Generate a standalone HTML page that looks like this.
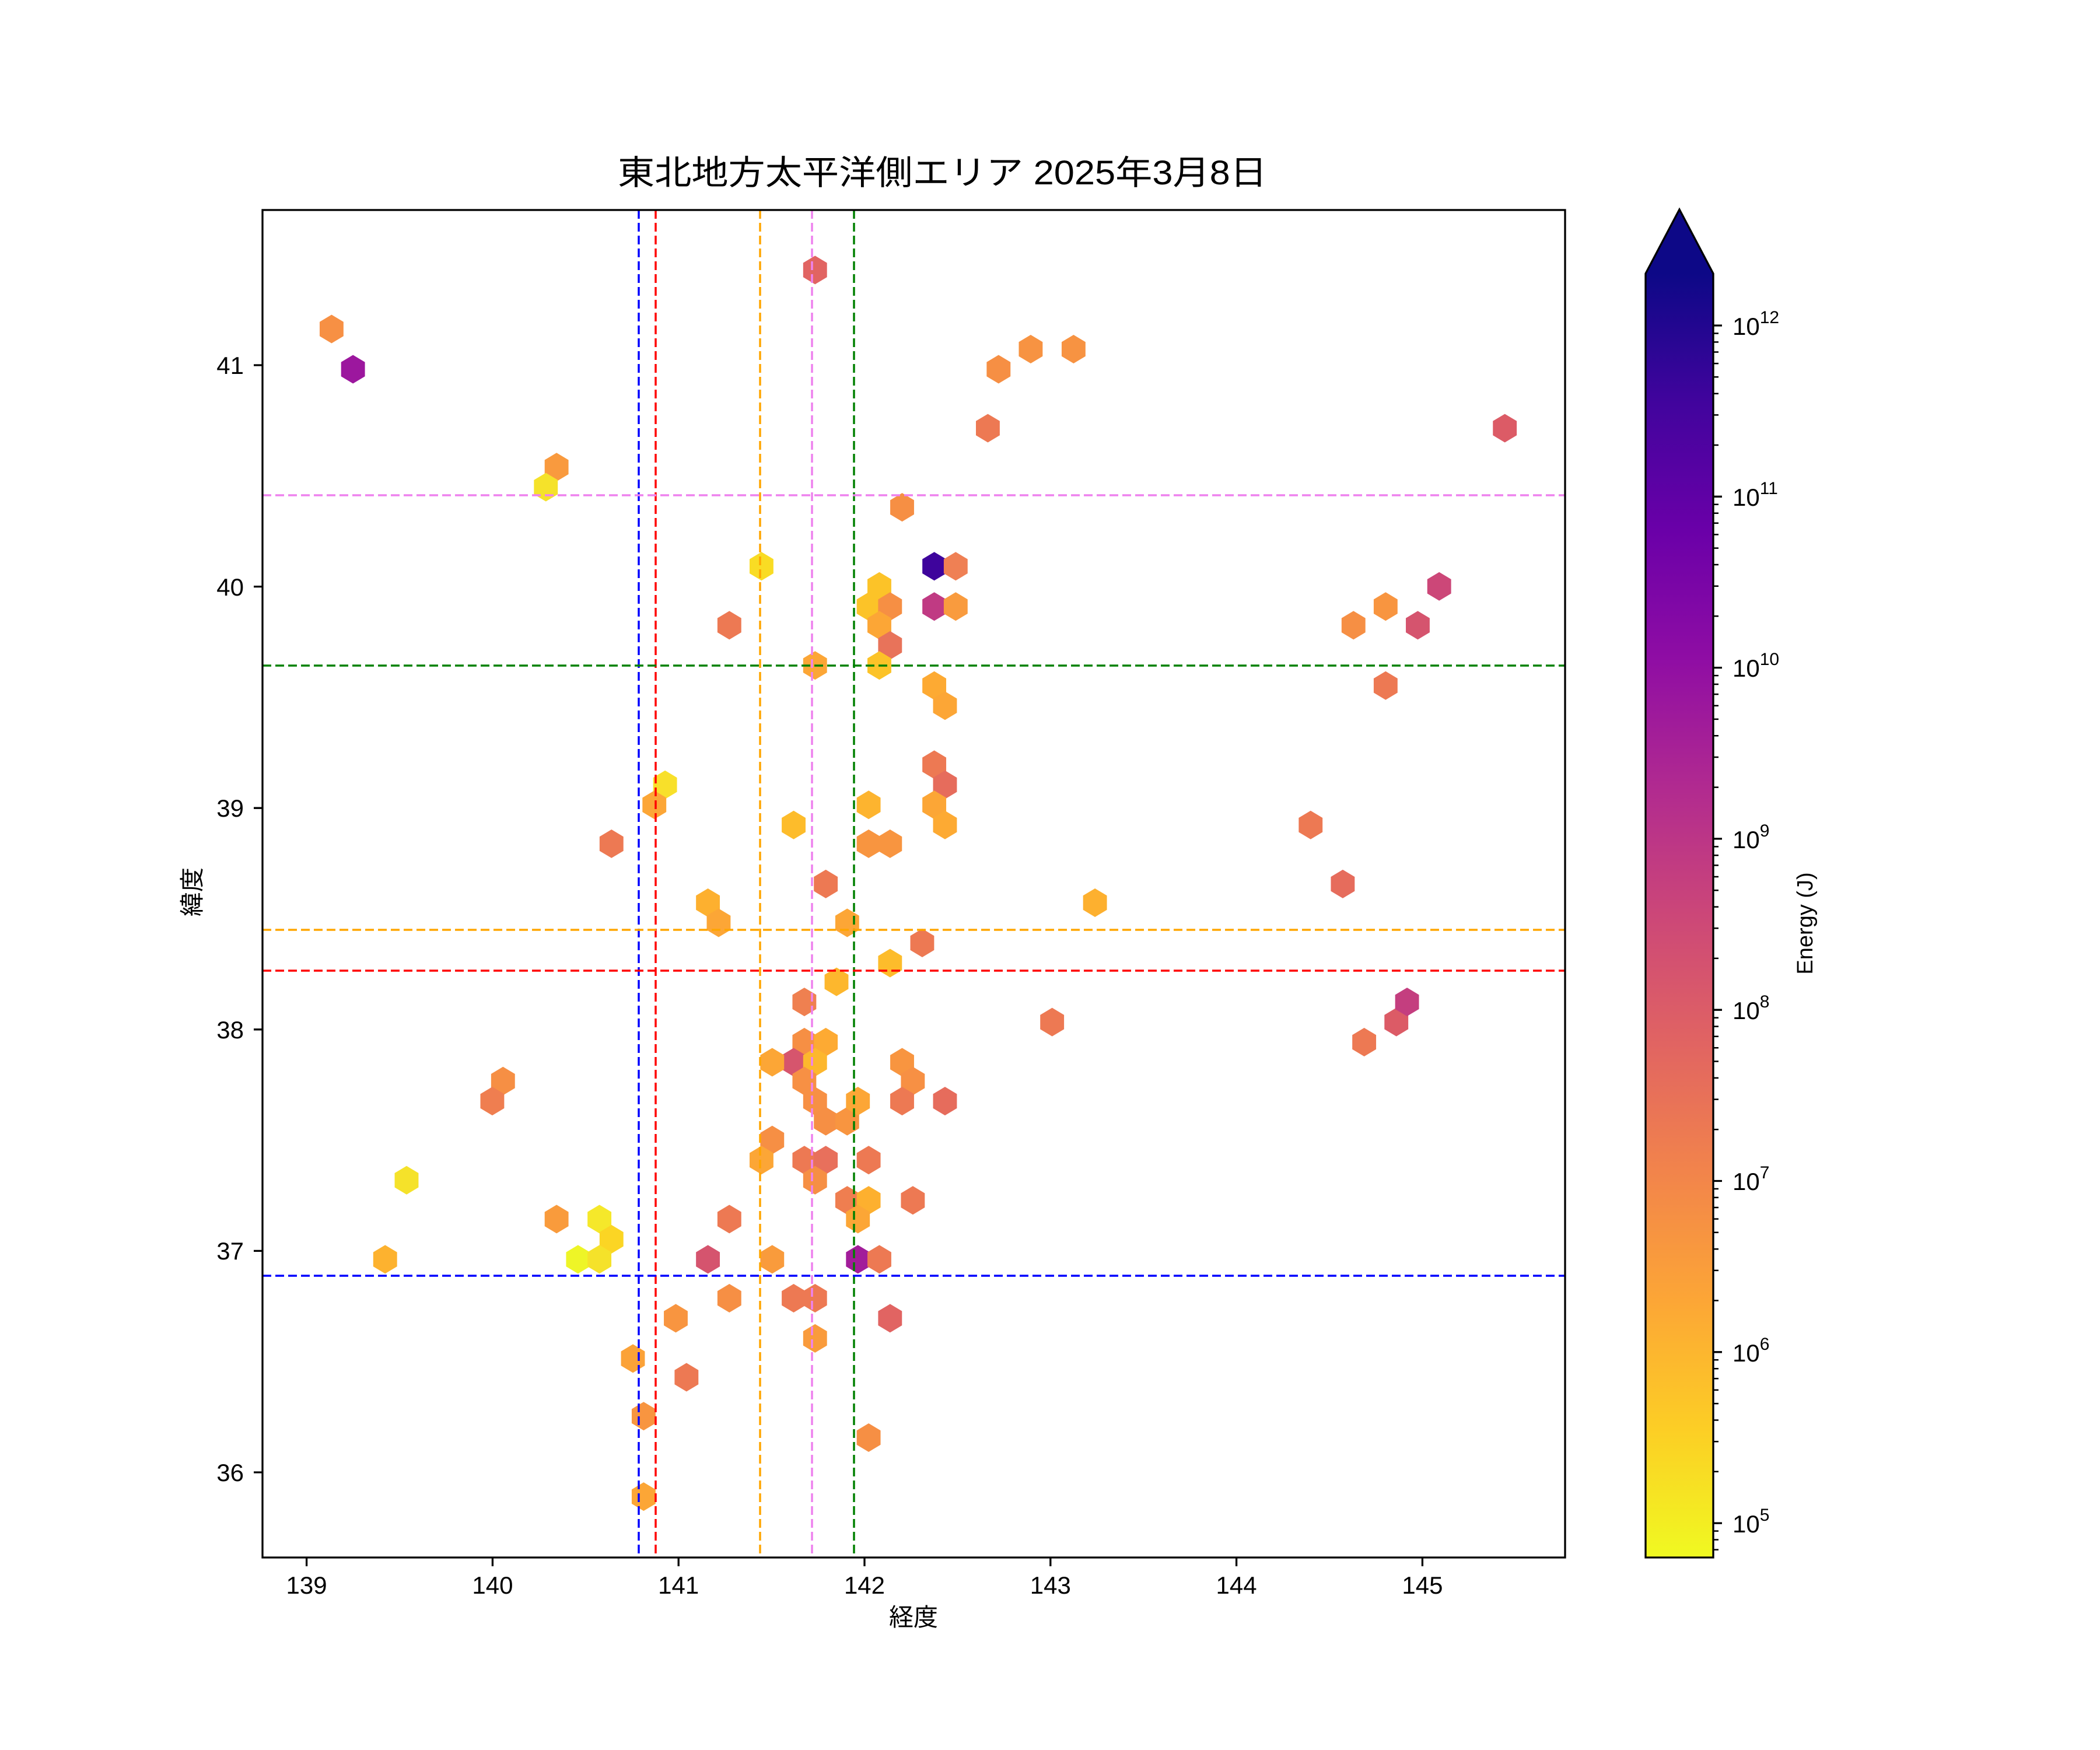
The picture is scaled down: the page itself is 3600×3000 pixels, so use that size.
<!DOCTYPE html>
<html><head><meta charset="utf-8"><style>html,body{margin:0;padding:0;background:#fff}svg{display:block}</style></head>
<body>
<svg xmlns="http://www.w3.org/2000/svg" xmlns:xlink="http://www.w3.org/1999/xlink" width="3600" height="3000" viewBox="0 0 3600 3000" font-family="'Liberation Sans','Noto Sans CJK JP',sans-serif">
<defs>
<path id="h" d="M0,-10.66 L8.9,-5.33 L8.9,5.33 L0,10.66 L-8.9,5.33 L-8.9,-5.33Z"/>
<linearGradient id="pl" x1="0" y1="0" x2="0" y2="1">
<stop offset="0" stop-color="#0d0887"/><stop offset="0.1" stop-color="#41049d"/><stop offset="0.2" stop-color="#6a00a8"/><stop offset="0.3" stop-color="#8f0da4"/><stop offset="0.4" stop-color="#b12a90"/><stop offset="0.5" stop-color="#cc4778"/><stop offset="0.6" stop-color="#e16462"/><stop offset="0.7" stop-color="#f2844b"/><stop offset="0.8" stop-color="#fca636"/><stop offset="0.9" stop-color="#fcce25"/><stop offset="1" stop-color="#f0f921"/>
</linearGradient>
<clipPath id="ax"><rect x="450" y="360" width="2233" height="2310"/></clipPath>
</defs>
<rect width="3600" height="3000" fill="#fff"/>
<text x="1059" y="316" font-size="58" textLength="1113" lengthAdjust="spacingAndGlyphs">東北地方太平洋側エリア 2025年3月8日</text>
<g clip-path="url(#ax)">
<g transform="matrix(2.296 0 0 2.298 -1 -1.3)">
<use href="#h" x="248" y="246" fill="#f79044"/>
<use href="#h" x="264" y="276" fill="#9c179e"/>
<use href="#h" x="416" y="349" fill="#f99a3e"/>
<use href="#h" x="408" y="364" fill="#f5e22a"/>
<use href="#h" x="609" y="202" fill="#e16462"/>
<use href="#h" x="569" y="423" fill="#f9dc24"/>
<use href="#h" x="545" y="467" fill="#ed7953"/>
<use href="#h" x="738" y="320" fill="#ed7953"/>
<use href="#h" x="746" y="276" fill="#f68f44"/>
<use href="#h" x="770" y="261" fill="#f79342"/>
<use href="#h" x="802" y="261" fill="#f79342"/>
<use href="#h" x="1124" y="320" fill="#dc5b66"/>
<use href="#h" x="674" y="379" fill="#f68f44"/>
<use href="#h" x="698" y="423" fill="#3e049c"/>
<use href="#h" x="714" y="423" fill="#ef8054"/>
<use href="#h" x="657" y="438" fill="#fcc328"/>
<use href="#h" x="649" y="453" fill="#fcc328"/>
<use href="#h" x="665" y="453" fill="#f68f44"/>
<use href="#h" x="698" y="453" fill="#c03a83"/>
<use href="#h" x="714" y="453" fill="#f99b3e"/>
<use href="#h" x="657" y="467" fill="#fca636"/>
<use href="#h" x="665" y="482" fill="#e8735a"/>
<use href="#h" x="609" y="497" fill="#fca636"/>
<use href="#h" x="657" y="497" fill="#fcc328"/>
<use href="#h" x="698" y="512" fill="#fdaa33"/>
<use href="#h" x="706" y="527" fill="#fca636"/>
<use href="#h" x="1075" y="438" fill="#cc4778"/>
<use href="#h" x="1059" y="467" fill="#d5546e"/>
<use href="#h" x="1011" y="467" fill="#f68f44"/>
<use href="#h" x="1035" y="453" fill="#f89540"/>
<use href="#h" x="1035" y="512" fill="#ed7953"/>
<use href="#h" x="698" y="571" fill="#ed7953"/>
<use href="#h" x="706" y="586" fill="#e66c5c"/>
<use href="#h" x="698" y="601" fill="#fca636"/>
<use href="#h" x="706" y="616" fill="#fdaa33"/>
<use href="#h" x="497" y="586" fill="#f8e02a"/>
<use href="#h" x="489" y="601" fill="#fca636"/>
<use href="#h" x="457" y="630" fill="#ed7953"/>
<use href="#h" x="593" y="616" fill="#fdbc2b"/>
<use href="#h" x="649" y="601" fill="#fdb42f"/>
<use href="#h" x="649" y="630" fill="#f89540"/>
<use href="#h" x="665" y="630" fill="#f89540"/>
<use href="#h" x="617" y="660" fill="#ed7953"/>
<use href="#h" x="979" y="616" fill="#ed7953"/>
<use href="#h" x="1003" y="660" fill="#e66c5c"/>
<use href="#h" x="529" y="674" fill="#fdb02f"/>
<use href="#h" x="537" y="689" fill="#fca636"/>
<use href="#h" x="633" y="689" fill="#fca636"/>
<use href="#h" x="818" y="674" fill="#fdb02f"/>
<use href="#h" x="689" y="704" fill="#ed7953"/>
<use href="#h" x="665" y="719" fill="#fdbc2b"/>
<use href="#h" x="625" y="733" fill="#fdb72d"/>
<use href="#h" x="601" y="748" fill="#ef8050"/>
<use href="#h" x="601" y="778" fill="#f68f44"/>
<use href="#h" x="617" y="778" fill="#fdaa33"/>
<use href="#h" x="593" y="793" fill="#d6556d"/>
<use href="#h" x="577" y="793" fill="#fca636"/>
<use href="#h" x="609" y="793" fill="#fdb72d"/>
<use href="#h" x="601" y="807" fill="#f79044"/>
<use href="#h" x="609" y="822" fill="#f79044"/>
<use href="#h" x="617" y="837" fill="#f68f44"/>
<use href="#h" x="633" y="837" fill="#f89540"/>
<use href="#h" x="641" y="822" fill="#fca636"/>
<use href="#h" x="674" y="793" fill="#f89540"/>
<use href="#h" x="682" y="807" fill="#f79044"/>
<use href="#h" x="674" y="822" fill="#ed7953"/>
<use href="#h" x="706" y="822" fill="#e66c5c"/>
<use href="#h" x="786" y="763" fill="#ed7953"/>
<use href="#h" x="1019" y="778" fill="#ed7953"/>
<use href="#h" x="1043" y="763" fill="#dc5b66"/>
<use href="#h" x="1051" y="748" fill="#c43e7f"/>
<use href="#h" x="376" y="807" fill="#f68f44"/>
<use href="#h" x="368" y="822" fill="#ef7e50"/>
<use href="#h" x="304" y="881" fill="#f5e22a"/>
<use href="#h" x="288" y="940" fill="#fdb22f"/>
<use href="#h" x="416" y="910" fill="#f99b3c"/>
<use href="#h" x="448" y="910" fill="#f5e82a"/>
<use href="#h" x="457" y="925" fill="#fbd524"/>
<use href="#h" x="432" y="940" fill="#eef527"/>
<use href="#h" x="448" y="940" fill="#f5e22a"/>
<use href="#h" x="577" y="851" fill="#f68f44"/>
<use href="#h" x="569" y="866" fill="#fca636"/>
<use href="#h" x="601" y="866" fill="#ed7953"/>
<use href="#h" x="617" y="866" fill="#e8705c"/>
<use href="#h" x="609" y="881" fill="#f68f44"/>
<use href="#h" x="633" y="896" fill="#ef7e50"/>
<use href="#h" x="649" y="896" fill="#fdb02f"/>
<use href="#h" x="641" y="910" fill="#fca636"/>
<use href="#h" x="649" y="866" fill="#ed7953"/>
<use href="#h" x="682" y="896" fill="#ed7953"/>
<use href="#h" x="545" y="910" fill="#ed7953"/>
<use href="#h" x="529" y="940" fill="#d5546e"/>
<use href="#h" x="577" y="940" fill="#f99b3c"/>
<use href="#h" x="641" y="940" fill="#a21d9a"/>
<use href="#h" x="657" y="940" fill="#ed7953"/>
<use href="#h" x="545" y="969" fill="#f68f44"/>
<use href="#h" x="593" y="969" fill="#ed7953"/>
<use href="#h" x="609" y="969" fill="#ed7953"/>
<use href="#h" x="665" y="984" fill="#e16462"/>
<use href="#h" x="505" y="984" fill="#f89540"/>
<use href="#h" x="609" y="999" fill="#f99b3c"/>
<use href="#h" x="473" y="1014" fill="#fba238"/>
<use href="#h" x="513" y="1028" fill="#ed7953"/>
<use href="#h" x="481" y="1057" fill="#f89540"/>
<use href="#h" x="649" y="1073" fill="#f68f44"/>
<use href="#h" x="481" y="1117" fill="#fca636"/>
</g>
<g stroke-width="3.5" stroke-dasharray="15,7" fill="none">
<line x1="1095" y1="360" x2="1095" y2="2670" stroke="#0000ff"/>
<line x1="1124" y1="360" x2="1124" y2="2670" stroke="#ff0000"/>
<line x1="1303" y1="360" x2="1303" y2="2670" stroke="#ffa500"/>
<line x1="1392" y1="360" x2="1392" y2="2670" stroke="#ee82ee"/>
<line x1="1464" y1="360" x2="1464" y2="2670" stroke="#008000"/>
<line x1="450" y1="849" x2="2683" y2="849" stroke="#ee82ee"/>
<line x1="450" y1="1141" x2="2683" y2="1141" stroke="#008000"/>
<line x1="450" y1="1594" x2="2683" y2="1594" stroke="#ffa500"/>
<line x1="450" y1="1664" x2="2683" y2="1664" stroke="#ff0000"/>
<line x1="450" y1="2187" x2="2683" y2="2187" stroke="#0000ff"/>
</g>
</g>
<rect x="450" y="360" width="2233" height="2310" fill="none" stroke="#000" stroke-width="3.3"/>
<g stroke="#000" stroke-width="3.3">
<path d="M525.6 2670v15M844.4 2670v15M1163.2 2670v15M1482 2670v15M1800.8 2670v15M2119.6 2670v15M2438.4 2670v15"/>
<path d="M450 626h-15M450 1005.6h-15M450 1385.2h-15M450 1764.8h-15M450 2144.4h-15M450 2524h-15"/>
</g>
<g font-size="42" text-anchor="middle">
<text x="525.6" y="2732">139</text><text x="844.4" y="2732">140</text><text x="1163.2" y="2732">141</text><text x="1482" y="2732">142</text><text x="1800.8" y="2732">143</text><text x="2119.6" y="2732">144</text><text x="2438.4" y="2732">145</text>
<text x="1566" y="2787">経度</text>
</g>
<g font-size="42" text-anchor="end">
<text x="418" y="641">41</text><text x="418" y="1021">40</text><text x="418" y="1400">39</text><text x="418" y="1780">38</text><text x="418" y="2159">37</text><text x="418" y="2539">36</text>
</g>
<text transform="translate(344 1529) rotate(-90)" font-size="42" text-anchor="middle">緯度</text>
<path d="M2821 469 L2879 359 L2937 469Z" fill="#0d0887"/>
<rect x="2821" y="469" width="116" height="2201" fill="url(#pl)"/>
<path d="M2821 469 L2879 359 L2937 469 V2670 H2821Z" fill="none" stroke="#000" stroke-width="3.3"/>
<g stroke="#000" stroke-width="3.3">
<path d="M2937 558h15M2937 851.3h15M2937 1144.6h15M2937 1437.9h15M2937 1731.2h15M2937 2024.5h15M2937 2317.8h15M2937 2611.1h15"/>
<path stroke-width="2.5" d="M2937 763h9M2937 711.4h9M2937 674.7h9M2937 646.3h9M2937 623.1h9M2937 603.5h9M2937 586.4h9M2937 571.5h9M2937 1056.3h9M2937 1004.7h9M2937 968h9M2937 939.6h9M2937 916.4h9M2937 896.8h9M2937 879.7h9M2937 864.8h9M2937 1349.6h9M2937 1298h9M2937 1261.3h9M2937 1232.9h9M2937 1209.7h9M2937 1190.1h9M2937 1173h9M2937 1158.1h9M2937 1642.9h9M2937 1591.3h9M2937 1554.6h9M2937 1526.2h9M2937 1503h9M2937 1483.4h9M2937 1466.3h9M2937 1451.4h9M2937 1936.2h9M2937 1884.6h9M2937 1847.9h9M2937 1819.5h9M2937 1796.3h9M2937 1776.7h9M2937 1759.6h9M2937 1744.7h9M2937 2229.5h9M2937 2177.9h9M2937 2141.2h9M2937 2112.8h9M2937 2089.6h9M2937 2070h9M2937 2052.9h9M2937 2038h9M2937 2522.8h9M2937 2471.2h9M2937 2434.5h9M2937 2406.1h9M2937 2382.9h9M2937 2363.3h9M2937 2346.2h9M2937 2331.3h9M2937 2656.6h9M2937 2639.5h9M2937 2624.6h9"/>
</g>
<g font-size="42">
<text x="2970" y="574">10<tspan font-size="30" dy="-20">12</tspan></text>
<text x="2970" y="867">10<tspan font-size="30" dy="-20">11</tspan></text>
<text x="2970" y="1160">10<tspan font-size="30" dy="-20">10</tspan></text>
<text x="2970" y="1454">10<tspan font-size="30" dy="-20">9</tspan></text>
<text x="2970" y="1747">10<tspan font-size="30" dy="-20">8</tspan></text>
<text x="2970" y="2040">10<tspan font-size="30" dy="-20">7</tspan></text>
<text x="2970" y="2334">10<tspan font-size="30" dy="-20">6</tspan></text>
<text x="2970" y="2627">10<tspan font-size="30" dy="-20">5</tspan></text>
</g>
<text transform="translate(3107 1583) rotate(-90)" font-size="38" text-anchor="middle">Energy (J)</text>
</svg>
</body></html>
